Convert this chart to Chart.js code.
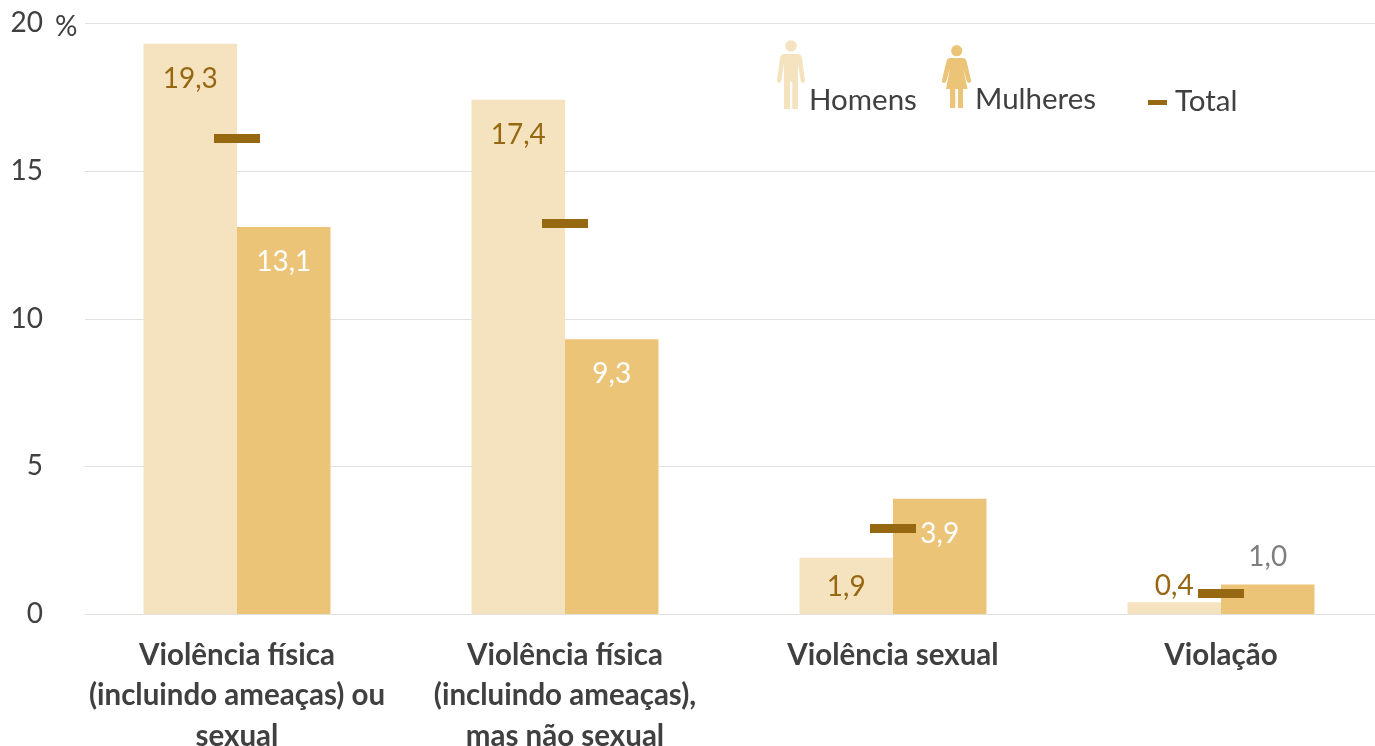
<!DOCTYPE html>
<html><head><meta charset="utf-8">
<style>html,body{margin:0;padding:0;background:#fff;overflow:hidden}#w{width:1375px;height:746px;overflow:hidden}canvas{display:block}</style>
<script src="https://cdn.jsdelivr.net/npm/chart.js@4"></script>
</head><body><div id="w"><canvas id="c" width="1385" height="746"></canvas></div>
<script>
const categories = [["Violência física","(incluindo ameaças) ou","sexual"],["Violência física","(incluindo ameaças),","mas não sexual"],["Violência sexual"],["Violação"]];
const homens = [19.3,17.4,1.9,0.4];
const mulheres = [13.1,9.3,3.9,1.0];
const total = [16.1,13.2,2.9,0.7];
const yTicks = [0,5,10,15,20];
const FONT = 'Lato, Carlito, sans-serif';
const C = {men:'#F5E3BF',women:'#ECC477',total:'#956811',text:'#404040',grid:'#E0E0E0',gray:'#7F7F7F'};
const fmt = v => v.toFixed(1).replace('.',',');

// Marker used for the "Total" points: a short thick dash
const totalDash = document.createElement('canvas');
totalDash.width = 46; totalDash.height = 9;
const dashCtx = totalDash.getContext('2d');
dashCtx.fillStyle = C.total; dashCtx.fillRect(0,0,46,9);

const gridPlugin = {id:'gridFrom85',beforeDatasetsDraw(ch){
  const {ctx,scales:{y},chartArea:a}=ch;ctx.save();ctx.strokeStyle=C.grid;ctx.lineWidth=1;
  yTicks.forEach(t=>{const p=Math.round(y.getPixelForValue(t))+.5;ctx.beginPath();ctx.moveTo(85,p);ctx.lineTo(a.right,p);ctx.stroke();});
  ctx.restore();
}};
const labelPlugin = {id:'valueLabels',afterDatasetsDraw(ch){
  const {ctx}=ch;ctx.save();ctx.font='28px '+FONT;ctx.textAlign='center';ctx.textBaseline='middle';
  [0,1].forEach(ds=>{
    ch.getDatasetMeta(ds).data.forEach((b,i)=>{
      const v=ch.data.datasets[ds].data[i];
      const off = v>=3?35:(v>=1.5?29:(v<0.5?-16:-27));
      ctx.fillStyle = ds===0?C.total:(v<=1?C.gray:'#FFFFFF');
      ctx.fillText(fmt(v),b.x,b.y+off);
    });
  });
  ctx.restore();
}};
const legendPlugin = {id:'pictoLegend',afterDraw(ch){
  const {ctx}=ch;ctx.save();
  ctx.fillStyle=C.men;ctx.beginPath();ctx.arc(791,46,5.8,0,Math.PI*2);ctx.fill();
  ctx.beginPath();ctx.moveTo(784,54);ctx.lineTo(798,54);ctx.quadraticCurveTo(801,54,802,58);ctx.lineTo(805,80);
  ctx.quadraticCurveTo(805,83,803,83);ctx.quadraticCurveTo(801,83,800.5,80);ctx.lineTo(798,63);ctx.lineTo(798,109);
  ctx.lineTo(792.3,109);ctx.lineTo(792.3,82);ctx.lineTo(790,82);ctx.lineTo(790,109);ctx.lineTo(784,109);ctx.lineTo(784,63);
  ctx.lineTo(781.5,80);ctx.quadraticCurveTo(781,83,779,83);ctx.quadraticCurveTo(777,83,777,80);ctx.lineTo(780,58);ctx.quadraticCurveTo(781,54,784,54);ctx.fill();
  ctx.fillStyle=C.women;ctx.beginPath();ctx.arc(956.7,50.7,5.6,0,Math.PI*2);ctx.fill();
  ctx.beginPath();ctx.moveTo(950,58);ctx.lineTo(963,58);ctx.quadraticCurveTo(965.5,58,966.5,61);ctx.lineTo(971,80);
  ctx.quadraticCurveTo(971.3,83,969,83);ctx.quadraticCurveTo(967.5,83,966.5,80.5);ctx.lineTo(963,68);ctx.lineTo(967.5,89);
  ctx.lineTo(963,89);ctx.lineTo(963,108);ctx.lineTo(958,108);ctx.lineTo(958,89);ctx.lineTo(955.3,89);ctx.lineTo(955.3,108);ctx.lineTo(950,108);ctx.lineTo(950,89);
  ctx.lineTo(946,89);ctx.lineTo(950,68);ctx.lineTo(946.5,80.5);ctx.quadraticCurveTo(945.5,83,944,83);ctx.quadraticCurveTo(941.7,83,942,80);ctx.lineTo(946.5,61);ctx.quadraticCurveTo(947.5,58,950,58);ctx.fill();
  ctx.fillStyle=C.total;ctx.fillRect(1148,100,19,5);
  ctx.fillStyle=C.text;ctx.font='29.5px '+FONT;ctx.textAlign='left';ctx.textBaseline='middle';
  ctx.fillText('Homens',809,100);ctx.fillText('Mulheres',975,99);ctx.fillText('Total',1175,101);
  ctx.font='28px '+FONT;
  ctx.fillText('%',55,27);
  ctx.restore();
}};

new Chart(document.getElementById('c'),{
  type:'bar',
  data:{labels:categories,datasets:[
    {label:'Homens',data:homens,backgroundColor:C.men,order:2,barPercentage:1,categoryPercentage:0.57},
    {label:'Mulheres',data:mulheres,backgroundColor:C.women,order:2,barPercentage:1,categoryPercentage:0.57},
    {label:'Total',type:'line',data:total,showLine:false,pointStyle:totalDash,pointRadius:1,pointHoverRadius:1,pointBorderWidth:0,order:1}
  ]},
  options:{
    responsive:false,animation:false,
    layout:{padding:{top:23,left:0,right:0,bottom:0},autoPadding:false},
    plugins:{legend:{display:false},tooltip:{enabled:false}},
    scales:{
      x:{grid:{display:false},border:{display:false},
        afterFit(s){s.height=132;s.paddingLeft=0;s.paddingRight=0;},
        ticks:{color:C.text,maxRotation:0,minRotation:0,autoSkip:false,padding:13,font:{family:FONT,size:29.5,weight:'bold',lineHeight:1.37}}},
      y:{min:0,max:20,grid:{display:false},border:{display:false},
        afterFit(s){s.width=73;s.paddingTop=0;s.paddingBottom=0;},
        afterBuildTicks(s){s.ticks=yTicks.map(v=>({value:v}));},
        ticks:{color:C.text,padding:22,font:{family:FONT,size:28}}}
    }
  },
  plugins:[gridPlugin,labelPlugin,legendPlugin]
});
</script></body></html>
